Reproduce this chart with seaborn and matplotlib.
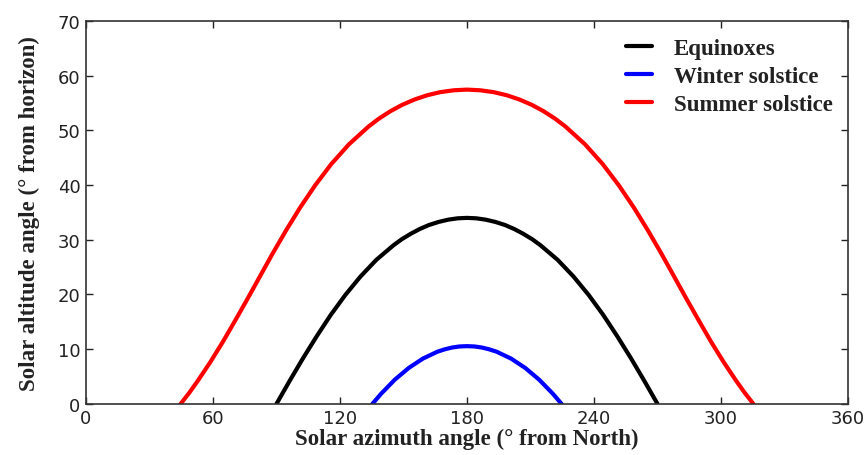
import matplotlib
matplotlib.use("Agg")
import matplotlib.pyplot as plt
import seaborn as sns
import pandas as pd

# Equinoxes
eq_az = [90, 96.2, 102.5, 109.0, 115.6, 122.5, 129.7, 137.2, 145.2, 149.2, 153.5, 157.7, 162.0,
         166.6, 171.1, 175.6, 180,
         184.4, 188.9, 193.4, 198.0, 202.3, 206.5, 210.8, 214.8, 222.8, 230.3, 237.5, 244.4,
         251.0, 257.5, 263.8, 270]
eq_alt = [0, 4.19, 8.32, 12.36, 16.24, 19.90, 23.29, 26.34, 28.97, 30.10, 31.11, 31.97, 32.69,
          33.26, 33.67, 33.92, 34.0,
          33.92, 33.67, 33.26, 32.69, 31.97, 31.11, 30.10, 28.97, 26.34, 23.29, 19.90, 16.24,
          12.36, 8.32, 4.19, 0]

# Winter solstice
wi_az = [135.3, 139.5, 145.9, 152.5, 159.2, 166.0, 169.6, 173.0, 176.4, 180,
         183.6, 187.0, 190.4, 194.0, 200.8, 207.5, 214.1, 220.5, 224.7]
wi_alt = [0, 1.89, 4.43, 6.58, 8.29, 9.54, 9.99, 10.31, 10.50, 10.56,
          10.50, 10.31, 9.99, 9.54, 8.29, 6.58, 4.43, 1.89, 0]

# Summer solstice
su_az = [44.7, 48.8, 52.8, 58.8, 64.7, 70.5, 76.4, 82.3, 88.3, 94.6, 101.2, 108.3, 115.9, 124.3,
         133.6, 138.6, 143.9, 149.4, 155.2, 161.2, 167.4, 173.8, 180,
         186.2, 192.6, 198.8, 204.8, 210.6, 216.1, 221.4, 226.4, 235.7, 244.1, 251.7,
         258.8, 265.4, 271.7, 277.7, 283.6, 289.5, 295.3, 301.2, 307.2, 311.2, 315.3]
su_alt = [0, 2.03, 4.20, 7.67, 11.36, 15.24, 19.26, 23.38, 27.56, 31.75, 35.90, 39.96, 43.84, 47.47,
          50.73, 52.19, 53.51, 54.66, 55.63, 56.41, 56.98, 57.32, 57.44,
          57.32, 56.98, 56.41, 55.63, 54.66, 53.51, 52.19, 50.73, 47.47, 43.84, 39.96,
          35.90, 31.75, 27.56, 23.38, 19.26, 15.24, 11.36, 7.67, 4.20, 2.03, 0]

series_names = ["Equinoxes", "Winter solstice", "Summer solstice"]
colors = ["#000000", "#0000ff", "#ff0000"]

xticks = [0, 60, 120, 180, 240, 300, 360]
yticks = [0, 10, 20, 30, 40, 50, 60, 70]

frames = []
for name, az, alt in zip(series_names, [eq_az, wi_az, su_az], [eq_alt, wi_alt, su_alt]):
    frames.append(pd.DataFrame({"azimuth": az, "altitude": alt, "series": name}))
df = pd.concat(frames, ignore_index=True)

sns.set_style("ticks")
plt.rcParams["font.family"] = ["DejaVu Sans"]

fig = plt.figure(figsize=(8.68, 4.56), dpi=100)
ax = fig.add_axes([0.099, 0.112, 0.878, 0.840])

sns.lineplot(data=df, x="azimuth", y="altitude", hue="series", hue_order=series_names,
             palette=dict(zip(series_names, colors)), sort=False, estimator=None,
             units="series", linewidth=3, ax=ax)
for ln in ax.get_lines():
    ln.set_solid_joinstyle("round")

ax.set_xlim(0, 360)
ax.set_ylim(0, 70)
ax.set_xticks(xticks)
ax.set_yticks(yticks)
ax.tick_params(direction="in", top=True, right=True, length=5, width=1,
               labelsize=13, colors="#222222", pad=4)
for s in ax.spines.values():
    s.set_visible(True)
    s.set_color("#333333")
    s.set_linewidth(1.2)

lab_font = dict(family="Liberation Serif", weight="bold", size=16.5, color="#222222")
ax.set_xlabel("Solar azimuth angle (° from North)", fontdict=lab_font, labelpad=0)
ax.set_ylabel("Solar altitude angle (° from horizon)", fontdict=lab_font, labelpad=13)

handles, labels = ax.get_legend_handles_labels()
leg = ax.legend(handles, labels, loc="upper right", bbox_to_anchor=(0.98, 0.955),
                frameon=False, borderpad=0, borderaxespad=0,
                handlelength=1.15, handletextpad=0.95, labelspacing=0.3,
                prop=dict(family="Liberation Serif", weight="bold", size=16.5))
for t in leg.get_texts():
    t.set_color("#222222")

fig.savefig("out.png", dpi=100)
